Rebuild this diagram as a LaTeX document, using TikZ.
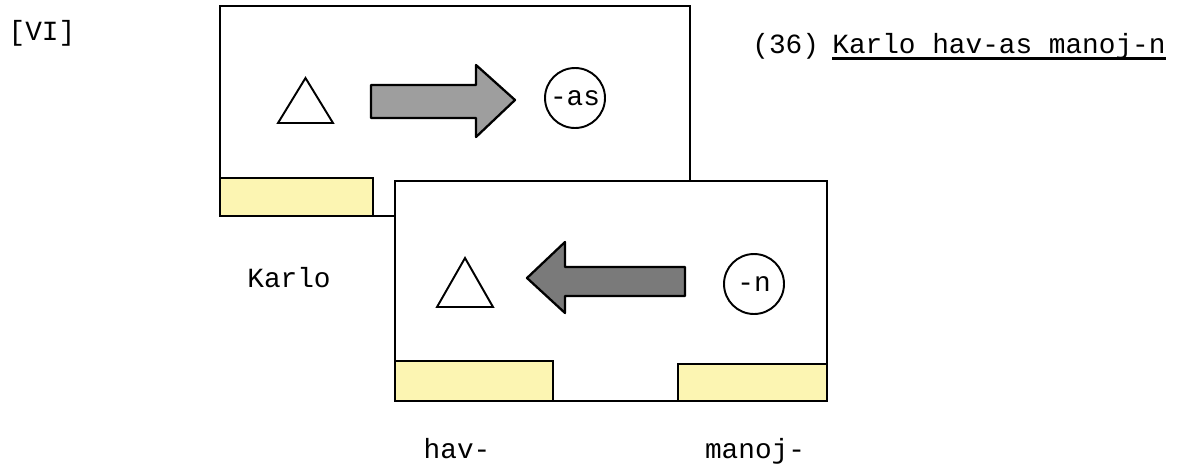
\documentclass[tikz,border=0pt]{standalone}
\usepackage{fontspec}
\setmonofont{Liberation Mono}
\usetikzlibrary{positioning}
\definecolor{stripyellow}{RGB}{252,245,178}
\definecolor{arrowgray}{RGB}{158,158,158}
\definecolor{arrowdark}{RGB}{122,122,122}

\begin{document}
\begin{tikzpicture}[x=0.02cm, y=-0.02cm,
        panel/.style={draw, fill=white, line width=1.1pt},
        strip/.style={draw, fill=stripyellow, line width=1.1pt},
        txt/.style={font=\fontsize{15.8}{18}\selectfont\ttfamily, inner sep=0pt, anchor=base},
        marker/.style={circle, draw, line width=1.1pt, minimum size=1.2cm, inner sep=0pt, font=\fontsize{15.8}{18}\selectfont\ttfamily},
        role/.style={draw, line width=1.1pt, line join=miter},
        blockarrow/.style={draw, line width=1.3pt, line join=round},
    ]
        \useasboundingbox (0,0) rectangle (1182,463);

        % Heading
        \node[txt] (tag) at (42,40) {[VI]};
        \node[txt, anchor=base west] (num) at (752,53) {(36)};
        \node[txt, anchor=base west] (sent) at (832,53) {Karlo hav-as manoj-n};
        \draw[line width=1.4pt] ([yshift=-3pt]sent.base west) -- ([yshift=-3pt]sent.base east);

        % Panel A - hav-as
        \draw[panel] (220,6) rectangle (690,216);
        \draw[strip] (220,178) rectangle (373,216);
        \draw[role] (278,123) -- (305.5,78) -- (333,123) -- cycle;
        \draw[blockarrow, fill=arrowgray] (371,85) -- (476,85) -- (476,65) -- (515,100)
            -- (476,137) -- (476,118) -- (371,118) -- cycle;
        \node[marker] (as) at (575,98) {-as};

        % Panel B - manoj-n
        \draw[panel] (395,181) rectangle (827,401);
        \draw[strip] (395,361) rectangle (553,401);
        \draw[strip] (678,364) rectangle (827,401);
        \draw[role] (437,307) -- (465,258) -- (493,307) -- cycle;
        \draw[blockarrow, fill=arrowdark] (685,267) -- (565,267) -- (565,242) -- (527,278)
            -- (565,313) -- (565,296) -- (685,296) -- cycle;
        \node[marker] (n) at (754,284) {-n};

        % Stems
        \node[txt] (karlo) at (289,287) {Karlo};
        \node[txt] (hav) at (457,458) {hav-};
        \node[txt] (manoj) at (755,458) {manoj-};
    \end{tikzpicture}
\end{document}
